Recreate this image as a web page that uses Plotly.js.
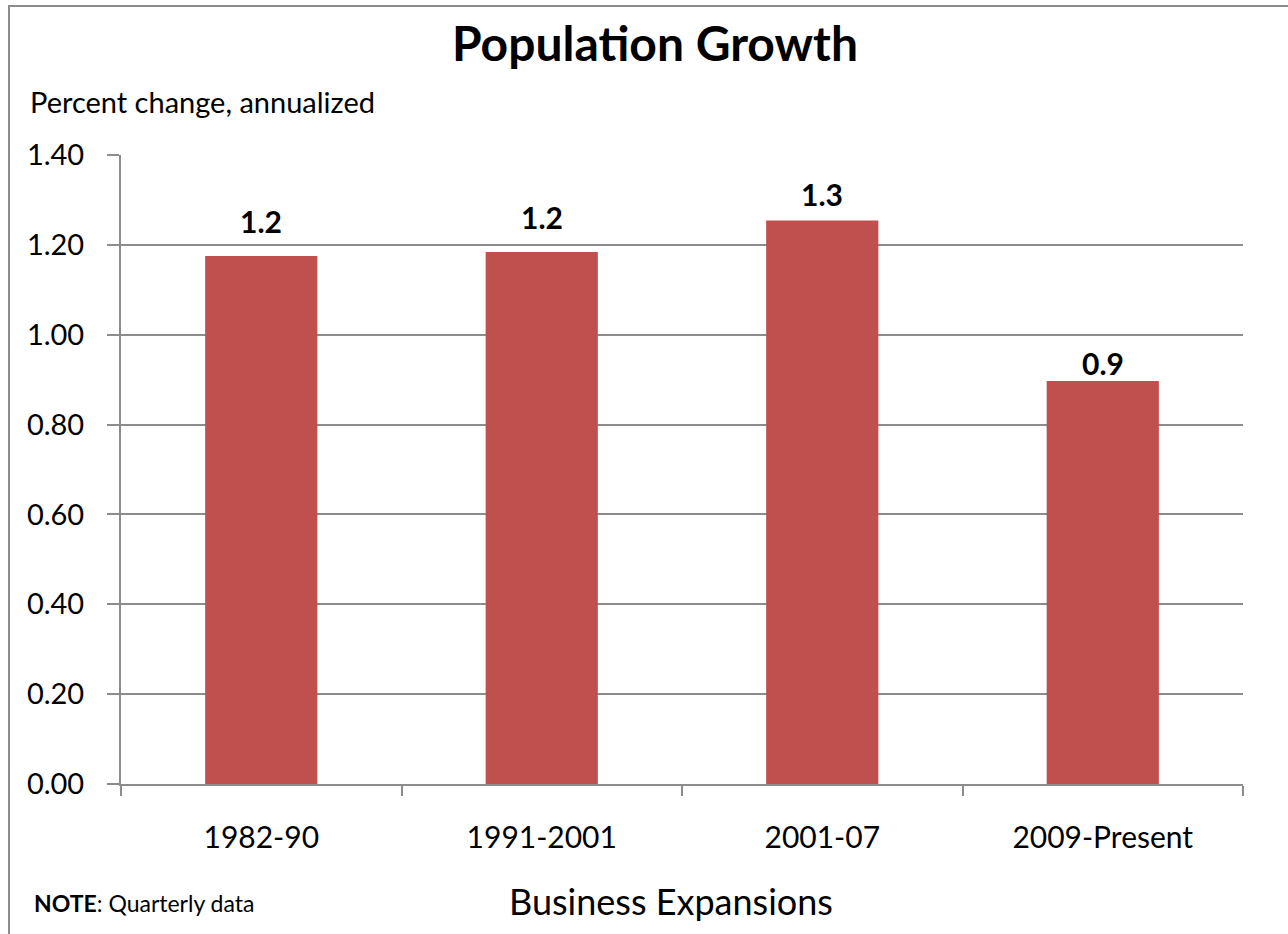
<!DOCTYPE html>
<html>
<head>
<meta charset="utf-8">
<script src="https://cdn.plot.ly/plotly-3.0.1.min.js"></script>
<style>
html,body{margin:0;padding:0;background:#fff;}
#chart{width:1288px;height:934px;position:absolute;left:0;top:0;}
#frame{position:absolute;left:8px;top:5px;width:1300px;height:960px;border-left:2px solid #8c8c8c;border-top:2px solid #8c8c8c;pointer-events:none;}
</style>
</head>
<body>
<div id="chart"></div>
<div id="frame"></div>
<script>
const categories = ["1982-90", "1991-2001", "2001-07", "2009-Present"];
const growth = [1.175, 1.184, 1.254, 0.897];
const yTicks = [0, 0.2, 0.4, 0.6, 0.8, 1.0, 1.2, 1.4];

const FONT = "Lato, 'Open Sans', sans-serif";
const grey = "#8c8c8c";
// vertical offsets (px) of the value labels above the bar tops, as placed in the original
const labelOffsets = [15, 15, 7, -2];

const trace = {
  type: "bar",
  x: categories,
  y: growth,
  marker: {color: "#C0504D"},
  hoverinfo: "skip"
};

const labelAnns = categories.map((c, i) => ({
  x: c, y: growth[i], xref: "x", yref: "y",
  text: "<b>" + growth[i].toFixed(1) + "</b>",
  showarrow: false, yanchor: "bottom", yshift: labelOffsets[i],
  font: {family: FONT, size: 30, color: "#000"}
}));

const layout = {
  width: 1288, height: 934,
  margin: {l: 121, r: 45, t: 155, b: 150, pad: 0},
  paper_bgcolor: "#fff", plot_bgcolor: "#fff",
  showlegend: false,
  bargap: 0.6,
  title: {
    text: "<b>Population Growth</b>",
    font: {family: FONT, size: 48, color: "#000"},
    x: (655 - 121) / 1122, xref: "paper", xanchor: "center",
    y: 1 - 44 / 934, yanchor: "middle"
  },
  xaxis: {
    type: "category",
    showline: true, linecolor: grey, linewidth: 2,
    ticks: "outside", tickson: "boundaries", ticklen: 10, tickwidth: 2, tickcolor: grey,
    tickfont: {family: FONT, size: 30, color: "#000"},
    ticklabelstandoff: 26,
    showgrid: false, zeroline: false, fixedrange: true
  },
  yaxis: {
    range: [0, 1.4],
    tickvals: yTicks,
    tickformat: ".2f",
    showline: true, linecolor: grey, linewidth: 2,
    ticks: "outside", ticklen: 12, tickwidth: 2, tickcolor: grey,
    showgrid: true, gridcolor: grey, gridwidth: 2,
    zeroline: false,
    ticklabelstandoff: 17,
    tickfont: {family: FONT, size: 29, color: "#000"},
    fixedrange: true
  },
  annotations: labelAnns.concat([
    {
      text: "Percent change, annualized", xref: "paper", yref: "paper",
      x: (28 - 121) / 1122, y: 1 + (155 - 102) / 629, xanchor: "left", yanchor: "middle",
      showarrow: false, font: {family: FONT, size: 29, color: "#000"}
    },
    {
      text: "Business Expansions", xref: "paper", yref: "paper",
      x: (671 - 121) / 1122, y: -(901 - 784) / 629, xanchor: "center", yanchor: "middle",
      showarrow: false, font: {family: FONT, size: 36, color: "#000"}
    },
    {
      text: "<b>NOTE</b>: Quarterly data", xref: "paper", yref: "paper",
      x: (32 - 121) / 1122, y: -(903 - 784) / 629, xanchor: "left", yanchor: "middle",
      showarrow: false, font: {family: FONT, size: 23, color: "#000"}
    }
  ])
};

Plotly.newPlot("chart", [trace], layout, {displayModeBar: false, staticPlot: true});
</script>
</body>
</html>
